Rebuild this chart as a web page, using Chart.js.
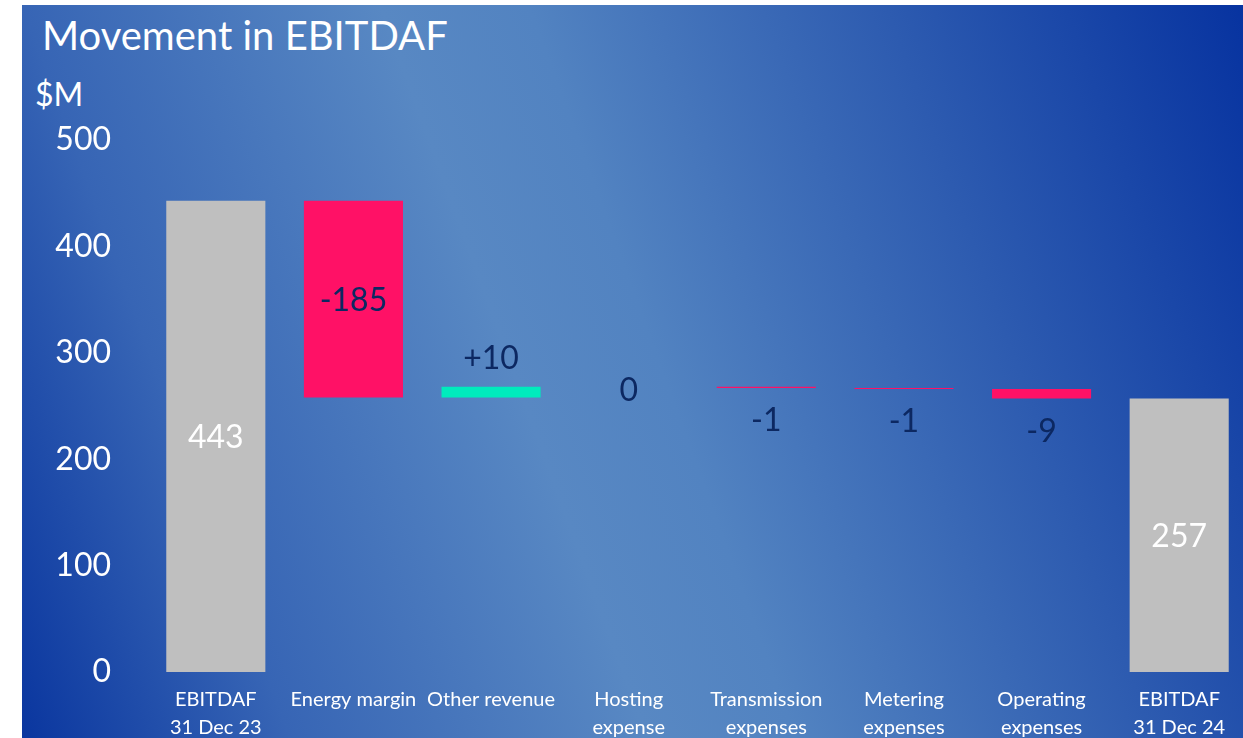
<!DOCTYPE html>
<html>
<head>
<meta charset="utf-8">
<script src="https://cdn.jsdelivr.net/npm/chart.js@4.4.1/dist/chart.umd.min.js"></script>
<style>
  html, body { margin: 0; padding: 0; background: #fff; overflow: hidden; width: 1243px; height: 738px; }
  #bg {
    position: absolute; left: 22px; top: 5px; width: 1221px; height: 733px;
    background: linear-gradient(70deg, #0a369f 0%, #3765b5 18%, #5888c3 42%, #5283c1 52%, #2d5bb0 76%, #0733a0 100%);
  }
  .txt { position: absolute; color: #fff; font-family: Lato, "Open Sans", sans-serif; white-space: nowrap; }
  #title { left: 42px; top: 11px; font-size: 40px; }
  #unit { left: 35px; top: 74px; font-size: 32px; }
  #wrap { position: absolute; left: 0; top: 0; width: 1248px; height: 738px; }
</style>
</head>
<body>
<div id="bg"></div>
<div id="title" class="txt">Movement in EBITDAF</div>
<div id="unit" class="txt">$M</div>
<div id="wrap"><canvas id="chart"></canvas></div>
<script>
document.addEventListener("DOMContentLoaded", () => {
    const categories = [
        ['EBITDAF', '31 Dec 23'],
        ['Energy margin'],
        ['Other revenue'],
        ['Hosting', 'expense'],
        ['Transmission', 'expenses'],
        ['Metering', 'expenses'],
        ['Operating', 'expenses'],
        ['EBITDAF', '31 Dec 24']
    ];
    const openingValue = 443;
    const movements = [-185, 10, 0, -1, -1, -9];
    const closingValue = 257;
    const valueLabels = ['443', '-185', '+10', '0', '-1', '-1', '-9', '257'];
    const yTicks = [0, 100, 200, 300, 400, 500];

    // build the floating bars for the waterfall
    const bars = [[0, openingValue]];
    let running = openingValue;
    movements.forEach(m => {
        bars.push([running, running + m]);
        running += m;
    });
    bars.push([0, closingValue]);

    const colors = bars.map((b, i) => {
        if (i === 0 || i === bars.length - 1) return '#bfbfbf';
        return b[1] >= b[0] ? '#00ebbd' : '#ff1166';
    });

    const FONT = 'Lato, "Open Sans", sans-serif';

    // value labels: totals inside in white, big moves inside, small ones above/below
    const labelPlugin = {
        id: 'valueLabels',
        afterDatasetsDraw(chart) {
            const ctx = chart.ctx;
            const meta = chart.getDatasetMeta(0);
            const y = chart.scales.y;
            ctx.save();
            ctx.font = '32px ' + FONT;
            ctx.textAlign = 'center';
            ctx.textBaseline = 'middle';
            meta.data.forEach((el, i) => {
                const [a, b] = bars[i];
                const top = y.getPixelForValue(Math.max(a, b));
                const bottom = y.getPixelForValue(Math.min(a, b));
                let ty;
                if (i === 0 || i === bars.length - 1) {
                    ctx.fillStyle = '#ffffff';
                    ty = (top + bottom) / 2 + 1;
                } else {
                    ctx.fillStyle = '#0c2862';
                    const diff = b - a;
                    if (Math.abs(diff) > 50) ty = (top + bottom) / 2 + 2;
                    else if (diff > 0) ty = top - 28;
                    else if (diff < 0) ty = bottom + 33;
                    else ty = top + 4;
                }
                ctx.fillText(valueLabels[i], el.x, ty);
            });
            ctx.restore();
        }
    };

    new Chart(document.getElementById('chart'), {
        type: 'bar',
        data: {
            labels: categories,
            datasets: [{
                data: bars,
                backgroundColor: colors,
                borderWidth: 0,
                barPercentage: 0.72,
                categoryPercentage: 1
            }]
        },
        options: {
            responsive: true,
            maintainAspectRatio: false,
            animation: false,
            layout: { padding: { left: 0, right: 0, top: 140, bottom: 0 } },
            plugins: {
                legend: { display: false },
                tooltip: { enabled: false }
            },
            scales: {
                x: {
                    grid: { display: false, drawTicks: false },
                    border: { display: false },
                    ticks: {
                        color: '#ffffff',
                        font: { family: FONT, size: 20, lineHeight: 1.38 },
                        padding: 14,
                        maxRotation: 0,
                        autoSkip: false
                    },
                    afterFit(scale) { scale.height = 66; }
                },
                y: {
                    min: 0,
                    max: 500,
                    afterBuildTicks(scale) { scale.ticks = yTicks.map(v => ({ value: v })); },
                    grid: { display: false, drawTicks: false },
                    border: { display: false },
                    ticks: {
                        color: '#ffffff',
                        font: { family: FONT, size: 32 },
                        padding: 36
                    },
                    afterFit(scale) { scale.width = 147; }
                }
            }
        },
        plugins: [labelPlugin]
    });
});
</script>
</body>
</html>
